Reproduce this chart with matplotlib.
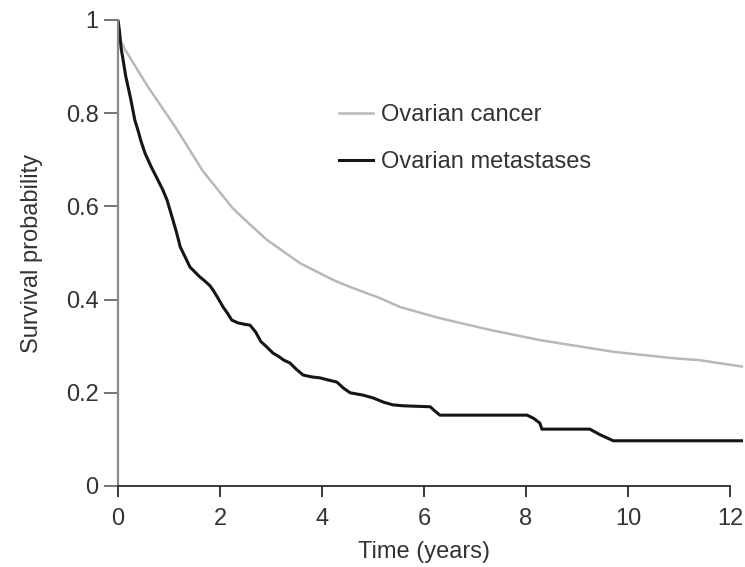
import matplotlib
matplotlib.use("Agg")
import matplotlib.pyplot as plt

plt.rcParams['font.family'] = ['Liberation Sans', 'DejaVu Sans']

# survival curves (time in years, survival probability)
cancer_t = [0.0, 0.04, 0.14, 0.59, 1.12, 1.4, 1.65, 1.8, 2.25, 2.43, 2.92, 3.57,
            4.22, 4.55, 5.14, 5.53, 6.31, 7.29, 8.27, 9.71, 10.9, 11.4, 12.25]
cancer_s = [1.0, 0.958, 0.936, 0.856, 0.771, 0.722, 0.678, 0.657, 0.596, 0.577,
            0.528, 0.478, 0.442, 0.427, 0.403, 0.384, 0.36, 0.335, 0.313, 0.288,
            0.274, 0.27, 0.256]

meta_t = [0.0, 0.03, 0.06, 0.1, 0.15, 0.2, 0.25, 0.33, 0.4, 0.45, 0.53, 0.65, 0.78,
          0.88, 0.96, 1.06, 1.15, 1.22, 1.3, 1.41, 1.5, 1.6, 1.7, 1.8, 1.86, 1.95,
          2.06, 2.15, 2.23, 2.35, 2.48, 2.59, 2.7, 2.8, 2.9, 3.04, 3.15, 3.25, 3.37,
          3.5, 3.63, 3.8, 3.96, 4.1, 4.29, 4.42, 4.55, 4.8, 5.0, 5.2, 5.39, 5.6,
          6.12, 6.2, 6.31, 8.02, 8.15, 8.27, 8.31, 9.25, 9.45, 9.71, 12.25]
meta_s = [1.0, 0.975, 0.94, 0.914, 0.88, 0.855, 0.83, 0.785, 0.76, 0.74, 0.714,
          0.685, 0.657, 0.635, 0.614, 0.577, 0.543, 0.513, 0.495, 0.47, 0.46,
          0.449, 0.44, 0.43, 0.421, 0.405, 0.384, 0.37, 0.356, 0.35, 0.347, 0.345,
          0.33, 0.31, 0.30, 0.285, 0.278, 0.27, 0.264, 0.25, 0.238, 0.234, 0.232,
          0.228, 0.223, 0.21, 0.20, 0.195, 0.189, 0.18, 0.174, 0.172, 0.17, 0.162,
          0.152, 0.152, 0.145, 0.135, 0.122, 0.122, 0.11, 0.097, 0.097]

x_ticks = [0, 2, 4, 6, 8, 10, 12]
y_ticks = [0, 0.2, 0.4, 0.6, 0.8, 1.0]
y_ticklabels = ['0', '0.2', '0.4', '0.6', '0.8', '1']

fig = plt.figure(figsize=(7.45, 5.67), dpi=100)
ax = fig.add_axes([0.1584, 0.1429, 0.8387, 0.8219])

ax.plot(cancer_t, cancer_s, color='#b8b8b8', lw=1.8, label='Ovarian cancer')
ax.plot(meta_t, meta_s, color='#151515', lw=2.2, label='Ovarian metastases')

ax.set_xlim(0, 12.25)
ax.set_ylim(0, 1)
for side in ['top', 'right']:
    ax.spines[side].set_visible(False)
ax.spines['left'].set_color('#8a8a8a')
ax.spines['left'].set_linewidth(1.6)
ax.spines['bottom'].set_color('#2a2a2a')
ax.spines['bottom'].set_linewidth(1.3)
ax.spines['bottom'].set_bounds(0, 12)

ax.set_xticks(x_ticks)
ax.set_yticks(y_ticks)
ax.set_yticklabels(y_ticklabels)
ax.tick_params(axis='x', length=8, width=1.3, color='#2a2a2a', pad=8,
               labelsize=17, labelcolor='#333333')
ax.tick_params(axis='y', length=10, width=1.3, color='#6a6a6a', pad=4,
               labelsize=17, labelcolor='#333333')

ax.set_xlabel('Time (years)', fontsize=17, color='#333333', labelpad=8,
              x=6 / 12.25)
ax.set_ylabel('Survival probability', fontsize=17, color='#333333', labelpad=16)

ax.legend(loc='upper left', bbox_to_anchor=(0.334, 0.845), frameon=False,
          fontsize=17, handlelength=1.48, handletextpad=0.34, labelspacing=1.08,
          borderpad=0, labelcolor='#333333')

fig.savefig('out.png', dpi=100)
